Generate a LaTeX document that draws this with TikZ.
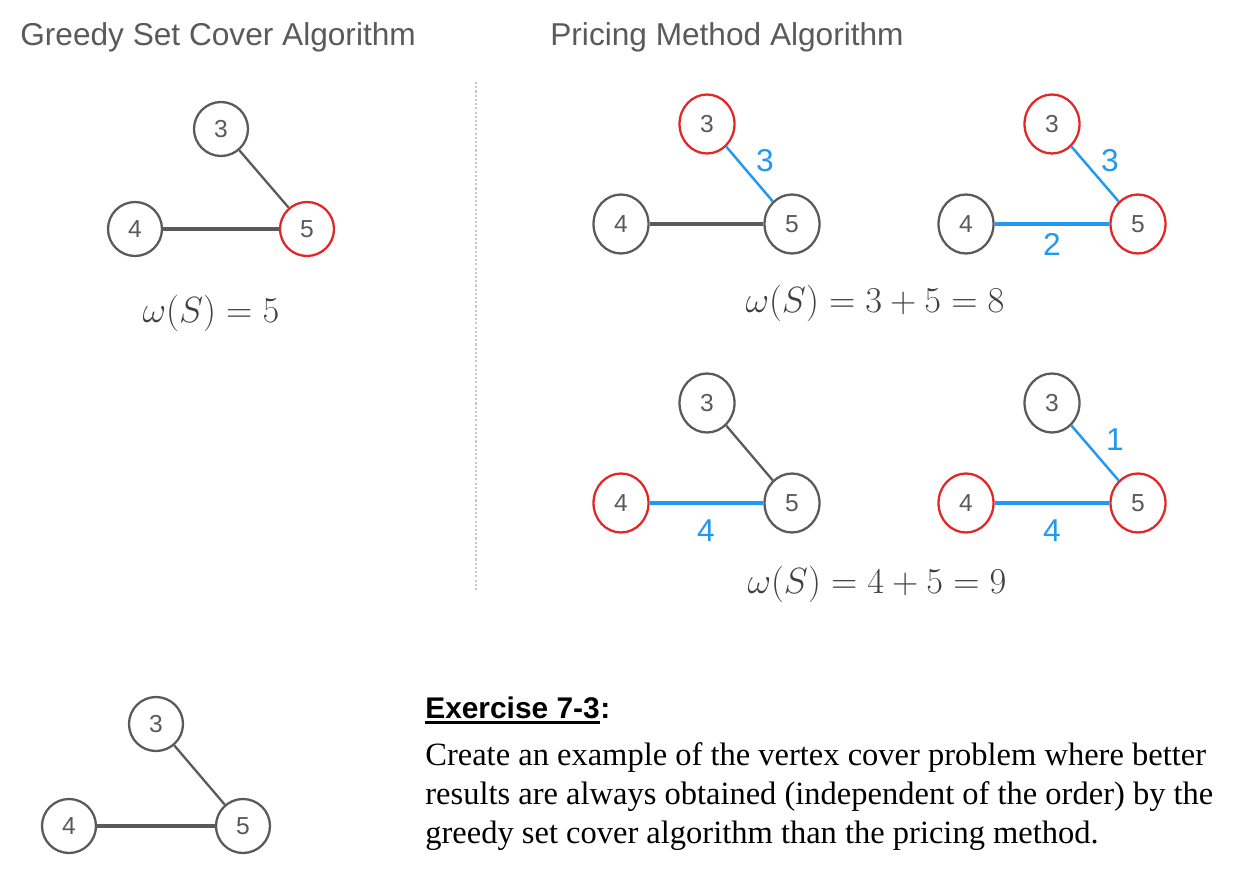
\documentclass[tikz,border=0pt]{standalone}
\usepackage{fontspec}
\setmainfont{Liberation Sans}
\newfontfamily\timesfont{Liberation Serif}
\usetikzlibrary{shapes.geometric}

\definecolor{vgray}{HTML}{5A5A5A}
\definecolor{vred}{HTML}{E32626}
\definecolor{vblue}{HTML}{2299F0}
\definecolor{sepgray}{HTML}{C8C8C8}

\tikzset{
  vert/.style={circle,draw=vgray,line width=1.3pt,minimum size=1.08cm,inner sep=0pt,
    text=vgray,font=\fontsize{14}{16}\selectfont},
  overt/.style={vert,ellipse,minimum width=1.1cm,minimum height=1.18cm},
  pick/.style={draw=vred},
  thickedge/.style={vgray,line width=2.4pt},
  thinedge/.style={vgray,line width=1.3pt},
  bthick/.style={vblue,line width=2.6pt},
  bthin/.style={vblue,line width=1.4pt},
  wlabel/.style={text=vblue,font=\fontsize{18}{20}\selectfont,inner sep=0pt},
  heading/.style={anchor=base west,inner sep=0pt,text=vgray,font=\fontsize{18}{22}\selectfont},
  cost/.style={anchor=base,inner sep=0pt,text=black!75,font=\fontsize{21}{24}\selectfont},
  sepline/.style={sepgray,line width=1.2pt,dash pattern=on 1.2pt off 1.2pt}
}

\begin{document}
\begin{tikzpicture}[x=0.02cm,y=-0.02cm]
  \useasboundingbox (0,0) rectangle (1233,872);

  % titles
  \node[heading] (tgreedy) at (20,45) {Greedy Set Cover Algorithm};
  \node[heading] (tpricing) at (550,45) {Pricing Method Algorithm};

  % separator
  \coordinate (sep1) at (476,82);
  \coordinate (sep2) at (476,592);
  \draw[sepline] (sep1) -- (sep2);

  % greedy: pick 5
  \node[vert] (g3) at (221,129) {3};
  \node[vert] (g4) at (135,229) {4};
  \node[vert,pick] (g5) at (307,229) {5};
  \draw[thinedge] (g3) -- (g5);
  \draw[thickedge] (g4) -- (g5);
  \node[cost] (wg) at (211,322) {$\omega(S) = 5$};

  % pricing, order 3-5 first
  \node[overt,pick] (a3) at (707,124) {3};
  \node[overt] (a4) at (621,224) {4};
  \node[overt] (a5) at (792,224) {5};
  \draw[bthin] (a3) -- (a5);
  \draw[thickedge] (a4) -- (a5);
  \node[wlabel] (la35) at (765,161) {3};

  \node[overt,pick] (b3) at (1052,124) {3};
  \node[overt] (b4) at (966,224) {4};
  \node[overt,pick] (b5) at (1138,224) {5};
  \draw[bthin] (b3) -- (b5);
  \draw[bthick] (b4) -- (b5);
  \node[wlabel] (lb35) at (1110,161) {3};
  \node[wlabel] (lb45) at (1052,244) {2};

  \node[cost] (wab) at (875,312) {$\omega(S) = 3 + 5 = 8$};

  % pricing, order 4-5 first
  \node[overt] (c3) at (707,403) {3};
  \node[overt,pick] (c4) at (621,503) {4};
  \node[overt] (c5) at (792,503) {5};
  \draw[thinedge] (c3) -- (c5);
  \draw[bthick] (c4) -- (c5);
  \node[wlabel] (lc45) at (706,531) {4};

  \node[overt] (d3) at (1052,403) {3};
  \node[overt,pick] (d4) at (966,503) {4};
  \node[overt,pick] (d5) at (1138,503) {5};
  \draw[bthin] (d3) -- (d5);
  \draw[bthick] (d4) -- (d5);
  \node[wlabel] (ld35) at (1115,440) {1};
  \node[wlabel] (ld45) at (1052,531) {4};

  \node[cost] (wcd) at (877,593) {$\omega(S) = 4 + 5 = 9$};

  % exercise graph
  \node[vert] (e3) at (156,724) {3};
  \node[vert] (e4) at (69,826) {4};
  \node[vert] (e5) at (243,826) {5};
  \draw[thinedge] (e3) -- (e5);
  \draw[thickedge] (e4) -- (e5);

  % exercise text
  \node[anchor=base west,inner sep=0pt,font=\bfseries\fontsize{17}{20}\selectfont] (extitle) at (425,718) {Exercise 7-3};
  \node[anchor=base west,inner sep=0pt,font=\bfseries\fontsize{17}{20}\selectfont] (excolon) at (extitle.base east) {:};
  \draw[line width=1.6pt] ([yshift=-2.5pt]extitle.base west) -- ([yshift=-2.5pt]extitle.base east);
  \node[anchor=base west,align=left,inner sep=0pt,font=\timesfont\fontsize{18.5}{22}\selectfont] (extext) at (425,843)
    {Create an example of the vertex cover problem where better\\
     results are always obtained (independent of the order) by the\\
     greedy set cover algorithm than the pricing method.};
\end{tikzpicture}
\end{document}
